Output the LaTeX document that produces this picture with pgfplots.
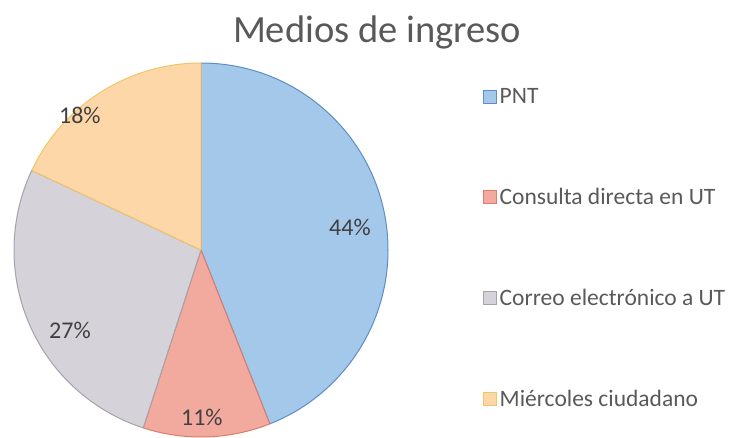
\documentclass[border=0pt]{standalone}
\usepackage{pgfplots}
\pgfplotsset{compat=1.18}
\usepgfplotslibrary{polar}
\usepackage{fontspec}
\setmainfont{Carlito}
\definecolor{pntfill}{HTML}{A4C8EA}
\definecolor{pntedge}{HTML}{5B8DC9}
\definecolor{confill}{HTML}{F3AA9E}
\definecolor{conedge}{HTML}{DD7C6A}
\definecolor{corfill}{HTML}{D5D3D9}
\definecolor{coredge}{HTML}{A3A3AC}
\definecolor{miefill}{HTML}{FDD7A8}
\definecolor{mieedge}{HTML}{F0C46A}
\definecolor{titlegray}{HTML}{595959}
\definecolor{labgray}{HTML}{404040}
\begin{document}
\begin{tikzpicture}[x=1pt,y=1pt]
\useasboundingbox (0,0) rectangle (736,437);
\node[text=titlegray, font=\fontsize{38.5}{46}\selectfont] at (377,405) {Medios de ingreso};
% shares: PNT 44%, Consulta 11%, Correo 27%, Miercoles 18%
% angles (clockwise from 90 deg): 90 -> -68.4 -> -108 -> -205.2 -> -270
\begin{polaraxis}[
  hide axis, scale only axis, width=374pt, height=374pt,
  xmin=0, xmax=360, ymin=0, ymax=1,
  at={(201pt,187pt)}, anchor=center, clip=false,
  legend image code/.code={\draw[#1] (0pt,-6.5pt) rectangle (13pt,6.5pt);},
  legend cell align=left,
  legend style={at={(1.254,0.934)}, anchor=north west, draw=none, fill=none,
    row sep=81pt, inner xsep=0pt, inner ysep=0pt,
    font=\fontsize{23.5}{28}\selectfont, text=titlegray,
    nodes={inner xsep=2.5pt, inner ysep=1pt}},
  every axis plot/.append style={line width=1pt, line join=round},
]
\addplot[fill=pntfill, draw=pntedge] coordinates {(0,0) (90,1)}
  arc[start angle=90, end angle=-68.4, radius=187pt] -- cycle;
\addlegendentry{PNT}
\addplot[fill=confill, draw=conedge] coordinates {(0,0) (-68.4,1)}
  arc[start angle=-68.4, end angle=-108, radius=187pt] -- cycle;
\addlegendentry{Consulta directa en UT}
\addplot[fill=corfill, draw=coredge] coordinates {(0,0) (-108,1)}
  arc[start angle=-108, end angle=-205.2, radius=187pt] -- cycle;
\addlegendentry{Correo electrónico a UT}
\addplot[fill=miefill, draw=mieedge] coordinates {(0,0) (-205.2,1)}
  arc[start angle=-205.2, end angle=-270, radius=187pt] -- cycle;
\addlegendentry{Miércoles ciudadano}
\node[text=labgray, font=\fontsize{24}{28}\selectfont] at (axis cs:8.8,0.806) {44\%};
\node[text=labgray, font=\fontsize{24}{28}\selectfont] at (axis cs:-89.7,0.893) {11\%};
\node[text=labgray, font=\fontsize{24}{28}\selectfont] at (axis cs:211.4,0.821) {27\%};
\node[text=labgray, font=\fontsize{24}{28}\selectfont] at (axis cs:131.9,0.97) {18\%};
\end{polaraxis}
\end{tikzpicture}
\end{document}
